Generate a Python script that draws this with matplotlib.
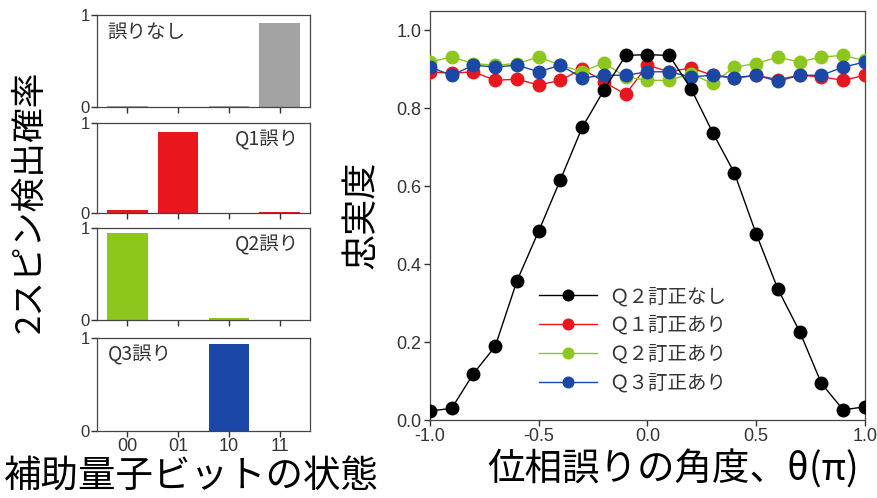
import numpy as np
import matplotlib.pyplot as plt

plt.rcParams['font.family'] = ['Noto Sans CJK JP', 'DejaVu Sans']

# ---- 左側: 補助量子ビットの状態ごとの検出確率 ----
states = ['00', '01', '10', '11']
p_none = [0.01, 0.0, 0.01, 0.91]
p_q1 = [0.035, 0.905, 0.0, 0.01]
p_q2 = [0.95, 0.0, 0.02, 0.0]
p_q3 = [0.0, 0.005, 0.935, 0.005]
panel_labels = ['誤りなし', 'Q1誤り', 'Q2誤り', 'Q3誤り']

# ---- 右側: 位相誤り角度と忠実度 ----
theta = np.round(np.arange(-1.0, 1.01, 0.1), 2)
fid_q2_none = [0.023, 0.030, 0.119, 0.189, 0.357, 0.485, 0.617, 0.751, 0.847, 0.936, 0.938,
               0.936, 0.851, 0.738, 0.634, 0.478, 0.336, 0.227, 0.094, 0.026, 0.034]
fid_q1 = [0.894, 0.890, 0.894, 0.872, 0.875, 0.860, 0.872, 0.902, 0.868, 0.836, 0.911,
          0.894, 0.904, 0.885, 0.877, 0.885, 0.874, 0.885, 0.881, 0.872, 0.885]
fid_q2 = [0.919, 0.932, 0.915, 0.911, 0.915, 0.932, 0.911, 0.894, 0.917, 0.881, 0.872,
          0.872, 0.889, 0.864, 0.906, 0.915, 0.932, 0.919, 0.932, 0.936, 0.923]
fid_q3 = [0.906, 0.885, 0.911, 0.906, 0.911, 0.894, 0.911, 0.878, 0.885, 0.885, 0.894,
          0.894, 0.881, 0.885, 0.879, 0.885, 0.870, 0.885, 0.885, 0.906, 0.919]
legend_labels = ['Ｑ２訂正なし', 'Ｑ１訂正あり', 'Ｑ２訂正あり', 'Ｑ３訂正あり']

c_gray, c_red, c_green, c_blue = '#a3a3a3', '#e8161e', '#8dc71e', '#1b47a6'
tick_font = {'family': ['Liberation Sans', 'DejaVu Sans']}

fig = plt.figure(figsize=(8.78, 4.98), dpi=100)

# 左の4枚のパネル
panel_pos = [(0.785, 0.1847), (0.5723, 0.1807), (0.3574, 0.1847), (0.1345, 0.1867)]
panel_data = [p_none, p_q1, p_q2, p_q3]
panel_colors = [c_gray, c_red, c_green, c_blue]
label_side = ['left', 'right', 'right', 'left']
x = np.arange(len(states))
for i in range(4):
    ax = fig.add_axes([0.1105, panel_pos[i][0], 0.2426, panel_pos[i][1]])
    ax.bar(x, panel_data[i], width=0.8, color=panel_colors[i])
    ax.set_xlim(-0.6, 3.6)
    ax.set_ylim(0, 1)
    ax.set_yticks([0, 1])
    ax.set_yticklabels(['0', '1'], **tick_font)
    ax.set_xticks(x)
    if i == 3:
        ax.set_xticklabels(states, **tick_font)
    else:
        ax.set_xticklabels([])
    ax.tick_params(labelsize=12, length=4, width=1, pad=1, colors='#333333')
    ax.tick_params(axis='x', labelsize=13)
    for s in ax.spines.values():
        s.set_linewidth(0.9)
        s.set_color('#444444')
    if label_side[i] == 'left':
        ax.text(0.05, 0.93, panel_labels[i], transform=ax.transAxes, fontsize=14,
                ha='left', va='top', color='#333333')
    else:
        ax.text(0.95, 0.93, panel_labels[i], transform=ax.transAxes, fontsize=14,
                ha='right', va='top', color='#333333')

fig.text(0.034, 0.595, '2スピン検出確率', rotation=90, fontsize=25, ha='center', va='center')
fig.text(0.218, 0.042, '補助量子ビットの状態', fontsize=27, ha='center', va='center')

# 右のグラフ
ax2 = fig.add_axes([0.4897, 0.1566, 0.4954, 0.8213])
ax2.plot(theta, fid_q1, '-o', color=c_red, mec=c_red, ms=9, lw=1, label=legend_labels[1], zorder=3)
ax2.plot(theta, fid_q2, '-o', color=c_green, mec=c_green, ms=9, lw=1, label=legend_labels[2], zorder=3)
ax2.plot(theta, fid_q3, '-o', color=c_blue, mec=c_blue, ms=9, lw=1, label=legend_labels[3], zorder=4)
ax2.plot(theta, fid_q2_none, '-o', color='black', ms=9, lw=1, label=legend_labels[0], zorder=5)
ax2.set_xlim(-1.0, 1.0)
ax2.set_ylim(0, 1.05)
ax2.set_xticks([-1.0, -0.5, 0.0, 0.5, 1.0])
ax2.set_xticklabels(['-1.0', '-0.5', '0.0', '0.5', '1.0'], **tick_font)
ax2.set_yticks([0.0, 0.2, 0.4, 0.6, 0.8, 1.0])
ax2.set_yticklabels(['0.0', '0.2', '0.4', '0.6', '0.8', '1.0'], **tick_font)
ax2.tick_params(labelsize=13, length=4, width=1, pad=2, colors='#333333')
for s in ax2.spines.values():
    s.set_linewidth(0.9)
    s.set_color('#444444')

h, l = ax2.get_legend_handles_labels()
order = [3, 0, 1, 2]
ax2.legend([h[k] for k in order], [l[k] for k in order], loc='upper left',
           bbox_to_anchor=(0.21, 0.37), frameon=False, fontsize=14, handlelength=3,
           handletextpad=0.6, labelspacing=0.4, labelcolor='#333333', markerscale=0.85)

fig.text(0.412, 0.568, '忠実度', rotation=90, fontsize=26, ha='center', va='center')
fig.text(0.767, 0.056, '位相誤りの角度、θ(π)', fontsize=27, ha='center', va='center',
         family=['Noto Sans CJK JP', 'DejaVu Sans'])

fig.savefig('out.png', dpi=100)
